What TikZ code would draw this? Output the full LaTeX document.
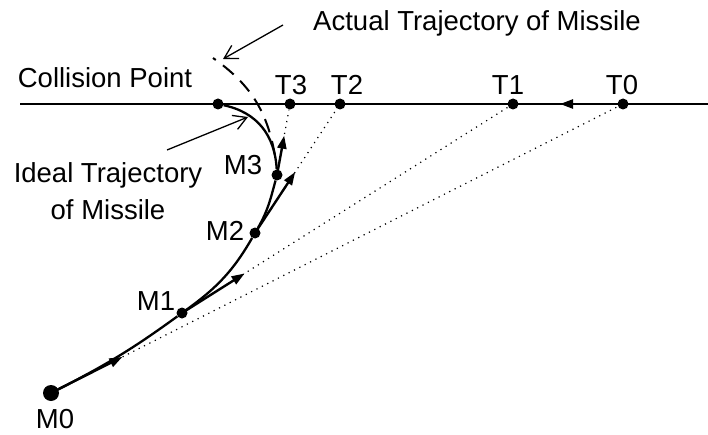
\documentclass[tikz,border=0pt]{standalone}
\usepackage{fontspec}
\setmainfont{Liberation Sans}
\usetikzlibrary{arrows.meta, calc}
\tikzset{
  dot/.style={circle, fill, inner sep=0pt, minimum size=11pt},
  bigdot/.style={circle, fill, inner sep=0pt, minimum size=16pt},
  lbl/.style={anchor=base, inner sep=0pt},
  vel/.style={-{Triangle[length=13pt,width=9pt]}, line width=2.4pt},
  sight/.style={line width=1.2pt, dash pattern=on 1.2pt off 4.8pt},
  pointer/.style={-{Straight Barb[length=13pt,width=15pt]}, line width=1.3pt},
  ideal/.style={line width=2.3pt},
  actual/.style={line width=2pt, dash pattern=on 14pt off 9pt},
  every node/.style={font=\fontsize{27.5pt}{37pt}\selectfont}
}
\begin{document}
\begin{tikzpicture}[x=1pt,y=1pt]
    \useasboundingbox (0,0) rectangle (708,434);
    % target line
    \coordinate (west) at (20,330);
    \coordinate (east) at (708,330);
    \draw[line width=1.3pt] (west) -- (east);
    \node[dot] (C) at (218,330) {};
    \foreach \n/\x/\lx in {3/290/291,2/340/347,1/513/508,0/623/622}{
        \node[dot] (T\n) at (\x,330) {};
        \node[lbl] (Tlab\n) at (\lx,339) {T\n};
    }
    \coordinate (Tnext) at (560,330);
    \draw[vel] (T0) -- (Tnext);
    % missile positions
    \node[bigdot] (M0) at (51,41) {};
    \foreach \n/\x/\y in {1/182/121,2/255/201,3/277/259}
        \node[dot] (M\n) at (\x,\y) {};
    \foreach \n/\x/\y in {0/55/6,1/156/124,2/225/194,3/243/259}
        \node[lbl] (Mlab\n) at (\x,\y) {M\n};
    % lines of sight and headings
    \foreach \n/\len in {0/80,1/74,2/73,3/40}{
        \draw[sight] (M\n) -- (T\n);
        \draw[vel] (M\n.center) -- ($(M\n)!\len pt!(T\n)$);
    }
    % trajectories
    \draw[ideal] (M0) to[out=27,in=216] (M1) to[out=36,in=240] (M2)
        to[out=60,in=255] (M3) to[out=93,in=-12,looseness=1.05] coordinate[pos=0.15] (split) (C);
    \coordinate (actend) at (213,376);
    \draw[actual] (split) to[out=100,in=-35] (actend);
    % labels
    \node[lbl] (collide) at (105,346) {Collision Point};
    \node[lbl] (actlab) at (477,403) {Actual Trajectory of Missile};
    \node[inner sep=0pt, align=center] (idlab) at (108,242.5) {Ideal Trajectory\\of Missile};
    \coordinate (actfrom) at (283,409);
    \coordinate (actto) at (223,375);
    \coordinate (idfrom) at (167,284);
    \coordinate (idto) at (248,317);
    \draw[pointer] (actfrom) -- (actto);
    \draw[pointer] (idfrom) -- (idto);
\end{tikzpicture}
\end{document}
